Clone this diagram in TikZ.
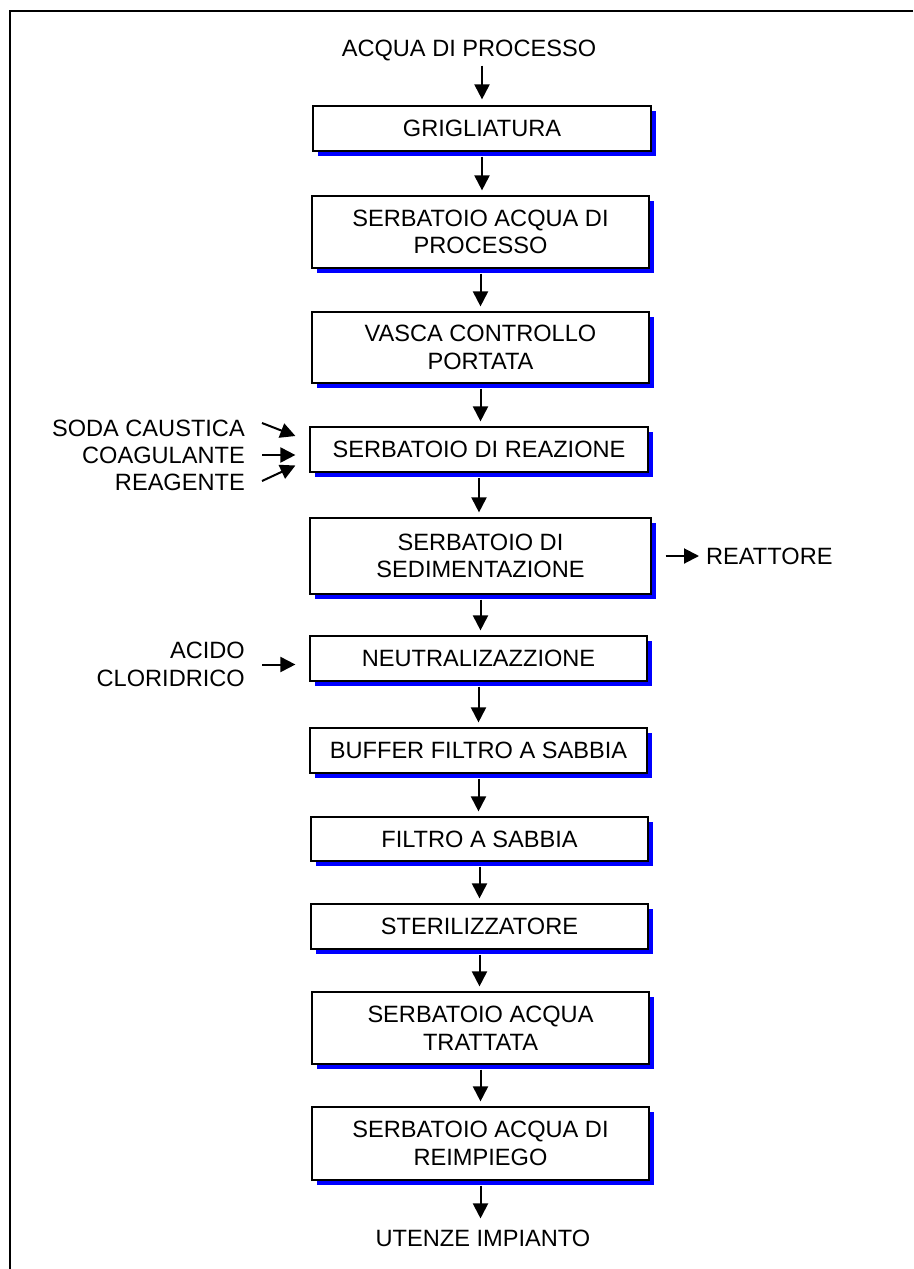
\documentclass[tikz,border=0pt]{standalone}
\usepackage{fontspec}
\setmainfont{Liberation Sans}
\usetikzlibrary{arrows.meta,shadows}

\tikzset{
    stage/.style={draw, line width=1.2pt, fill=white, align=center, inner sep=0pt,
      drop shadow={shadow xshift=5pt, shadow yshift=-5pt, fill=blue, opacity=1}},
    flow/.style={line width=2pt, -{Triangle[length=15pt,width=15pt]}},
    tag/.style={inner sep=0pt},
    every node/.style={font={\fontsize{23.6}{27.5}\selectfont}}
}

\begin{document}
\begin{tikzpicture}[x=1pt, y=-1pt]
    \useasboundingbox (0,0) rectangle (913,1269);
    % frame
    \draw[line width=2pt] (913,11) -- (10,11) -- (10,1269);
    % process stages
    \node[stage, minimum width=338, minimum height=45] (griglia) at (482,128.5) {GRIGLIATURA};
    \node[stage, minimum width=337, minimum height=72] (serbproc) at (480.5,232) {SERBATOIO ACQUA DI\\PROCESSO};
    \node[stage, minimum width=337, minimum height=71] (vasca) at (480.5,347.5) {VASCA CONTROLLO\\PORTATA};
    \node[stage, minimum width=338, minimum height=45] (reazione) at (479,449.5) {SERBATOIO DI REAZIONE};
    \node[stage, minimum width=341, minimum height=76] (sedim) at (480.5,556) {SERBATOIO DI\\SEDIMENTAZIONE};
    \node[stage, minimum width=337, minimum height=45] (neutr) at (478.5,658.5) {NEUTRALIZAZZIONE};
    \node[stage, minimum width=337, minimum height=45] (buffer) at (478.5,750.5) {BUFFER FILTRO A SABBIA};
    \node[stage, minimum width=337, minimum height=44] (filtro) at (479.5,839) {FILTRO A SABBIA};
    \node[stage, minimum width=337, minimum height=45] (steril) at (479.5,926.5) {STERILIZZATORE};
    \node[stage, minimum width=337, minimum height=72] (serbtratt) at (480.5,1028) {SERBATOIO ACQUA\\TRATTATA};
    \node[stage, minimum width=337, minimum height=73] (serbreimp) at (480.5,1143.5) {SERBATOIO ACQUA DI\\REIMPIEGO};
    % inlet and outlet
    \node[tag] (acqua) at (469,50) {ACQUA DI PROCESSO};
    \node[tag] (utenze) at (483,1238) {UTENZE IMPIANTO};
    % side streams
    \node[tag, anchor=east] (soda) at (245,428) {SODA CAUSTICA};
    \node[tag, anchor=east] (coag) at (245,455) {COAGULANTE};
    \node[tag, anchor=east] (reag) at (245,482) {REAGENTE};
    \node[tag, anchor=east, align=right] (acido) at (245,664.5) {ACIDO\\CLORIDRICO};
    \node[tag, anchor=west] (reattore) at (706,556) {REATTORE};
    % main line
    \draw[flow, shorten >=6pt] ([yshift=-5pt]acqua.south -| griglia.north) -- (griglia.north);
    \foreach \a/\b in {griglia/serbproc, serbproc/vasca, vasca/reazione, reazione/sedim, sedim/neutr,
      neutr/buffer, buffer/filtro, filtro/steril, steril/serbtratt, serbtratt/serbreimp} {
      \draw[flow, shorten <=5pt, shorten >=5pt] (\a.south) -- (\a.south |- \b.north);
    }
    \draw[flow, shorten <=5pt, shorten >=11pt] (serbreimp.south) -- (serbreimp.south |- utenze.north);
    % dosing arrows
    \draw[flow] ([xshift=17pt, yshift=5pt]soda.east) -- ([xshift=-14pt, yshift=13.5pt]reazione.west);
    \draw[flow, shorten >=14pt] ([xshift=17pt]coag.east) -- (coag.east -| reazione.west);
    \draw[flow] ([xshift=17pt, yshift=1pt]reag.east) -- ([xshift=-14pt, yshift=-16pt]reazione.west);
    \draw[flow, shorten >=14pt] ([xshift=17pt]acido.east) -- (acido.east -| neutr.west);
    \draw[flow, shorten <=14pt, shorten >=7pt] (sedim.east) -- (reattore.west);
\end{tikzpicture}
\end{document}
